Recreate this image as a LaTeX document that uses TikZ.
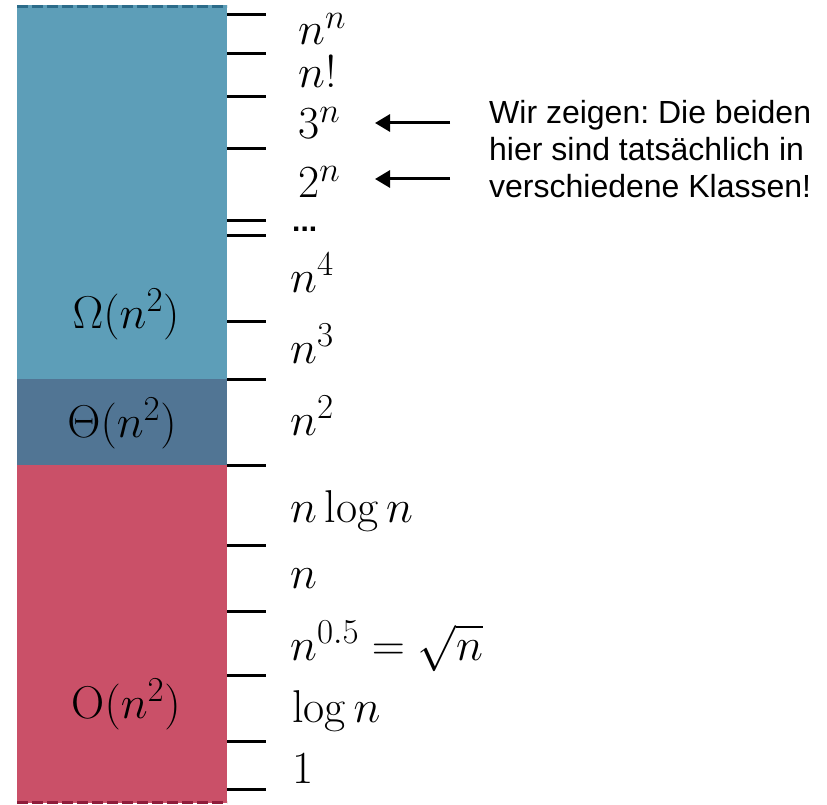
\RequirePackage{fix-cm}
\documentclass[tikz,border=0pt]{standalone}
\usepackage{fontspec}
\newfontfamily\arialfont{Liberation Sans}
\usetikzlibrary{arrows.meta}
\DeclareMathSizes{46}{46}{35}{26}
\definecolor{omegablue}{HTML}{5D9EB8}
\definecolor{thetablue}{HTML}{517594}
\definecolor{ored}{HTML}{CA5068}
\definecolor{topdash}{HTML}{2C6C8A}
\definecolor{botdash}{HTML}{8E1C3A}
\newcommand{\mathsz}{\fontsize{46}{50}\selectfont}
\frenchspacing
\begin{document}
\begin{tikzpicture}[x=1pt,y=-1pt,
  tickline/.style={line width=3pt},
  lab/.style={anchor=base west, inner sep=0pt, font=\mathsz},
  cls/.style={anchor=base, inner sep=0pt, font=\mathsz},
  arr/.style={line width=3pt, -{Triangle[length=15pt,width=17pt]}},
  edgedash/.style={line width=3pt, dash pattern=on 11pt off 4pt}]
\useasboundingbox (0,0) rectangle (827,805);
% column
\fill[omegablue] (17,5) rectangle (227,379);
\fill[thetablue] (17,379) rectangle (227,465);
\fill[ored] (17,465) rectangle (227,803);
\draw[edgedash, topdash] (17,6.5) -- (227,6.5);
\draw[edgedash, botdash] (17,802) -- (227,802);
% ticks
\foreach \yy in {15,54,97,149,221,235,321,379,465,545,611,675,741,789}
  \draw[tickline] (227,\yy) -- (266,\yy);
% class labels
\node[cls] (omega) at (126,328) {$\Omega(n^2)$};
\node[cls] (theta) at (122,437) {$\Theta(n^2)$};
\node[cls] (bigo) at (126,718) {$\mathrm{O}(n^2)$};
% growth labels
\node[lab] (nn) at (298,45) {$n^n$};
\node[lab] (nfac) at (298,88) {$n!$};
\node[lab] (three) at (298,139) {$3^n$};
\node[lab] (two) at (298,198) {$2^n$};
\node[lab, font=\arialfont\bfseries\fontsize{30}{32}\selectfont] (dots) at (292,232) {...};
\node[lab] (n4) at (290,292) {$n^4$};
\node[lab] (n3) at (290,363) {$n^3$};
\node[lab] (n2) at (290,435) {$n^2$};
\node[lab] (nlogn) at (290,522) {$n\log n$};
\node[lab] (n1) at (290,588) {$n$};
\node[lab] (sqrtn) at (290,660) {$n^{0.5}=\sqrt{n}$};
\node[lab] (logn) at (292,722) {$\log n$};
\node[lab] (one) at (292,783) {$1$};
% note and arrows
\node[anchor=base west, align=left, inner sep=0pt,
      font=\arialfont\fontsize{32}{37}\selectfont] (note) at (489,198)
  {Wir zeigen: Die beiden\\hier sind tatsächlich in\\verschiedene Klassen!};
\coordinate (a1s) at (450,123);
\coordinate (a1e) at (375,123);
\coordinate (a2s) at (450,179);
\coordinate (a2e) at (375,179);
\draw[arr] (a1s) -- (a1e);
\draw[arr] (a2s) -- (a2e);
\end{tikzpicture}
\end{document}
